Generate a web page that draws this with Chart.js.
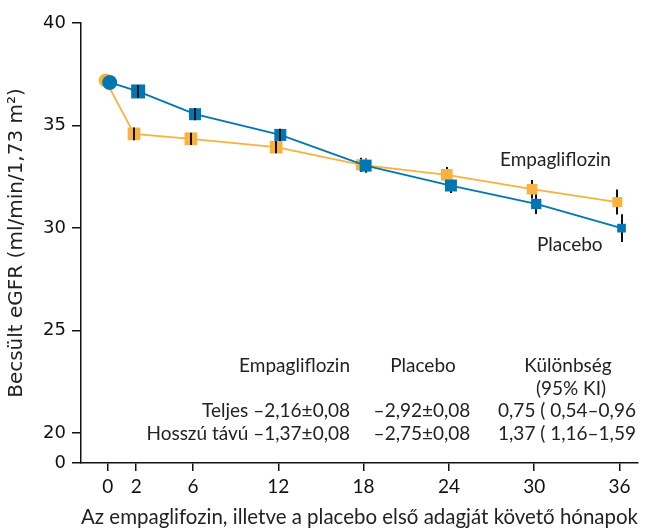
<!DOCTYPE html>
<html>
<head>
<meta charset="utf-8">
<script src="https://cdn.jsdelivr.net/npm/chart.js@4.4.0/dist/chart.umd.min.js"></script>
<style>
  body { margin: 0; background: #fff; }
</style>
</head>
<body>
<canvas id="egfrChart" width="651" height="530"></canvas>
<script>
// adatok
const honapok = [0, 2, 6, 12, 18, 24, 30, 36];
const placebo = [37.10, 36.66, 35.55, 34.54, 33.04, 32.07, 31.17, 29.99];
const placeboHiba = [0, 0.32, 0.30, 0.30, 0.35, 0.37, 0.49, 0.68];
const empa = [37.20, 34.59, 34.35, 33.94, 33.08, 32.59, 31.89, 31.26];
const empaHiba = [0, 0.31, 0.30, 0.30, 0.35, 0.38, 0.45, 0.61];
const yTickek = [20, 25, 30, 35, 40];
const xTickek = [0, 2, 6, 12, 18, 24, 30, 36];

const fejlec = ['Empagliflozin', 'Placebo', 'Különbség', '(95% KI)'];
const sor1 = ['Teljes –2,16±0,08', '–2,92±0,08', '0,75 ( 0,54–0,96'];
const sor2 = ['Hosszú távú –1,37±0,08', '–2,75±0,08', '1,37 ( 1,16–1,59'];

// stilus
const kek = '#0077b2';
const narancs = '#f9b13f';
const Y_MIN = 18.53;
const placeboMeret = [15, 14, 12, 12, 12, 12, 10.3, 8.7];
const empaMeret = [14, 12.7, 12.7, 12.7, 11, 11.7, 10.7, 10];
const szoveg = "19px Lato";

function pontok(ertekek, eltolas) {
  return honapok.map((m, i) => ({ x: m + eltolas, y: ertekek[i] }));
}

function sugar(meretek) {
  return meretek.map((s, i) => i === 0 ? s / 2 : s / Math.SQRT2);
}

// hibasavok: ha a negyzetbe belefer, felulre rajzoljuk
function hibasavok(chart, felul) {
  const ctx = chart.ctx;
  const xs = chart.scales.x, ys = chart.scales.y;
  const sorozat = [[placeboHiba, placeboMeret, 0], [empaHiba, empaMeret, 1]];
  ctx.save();
  ctx.strokeStyle = '#111';
  ctx.lineWidth = 2;
  sorozat.forEach(([hiba, meret, di]) => {
    const data = chart.data.datasets[di].data;
    data.forEach((p, i) => {
      if (!hiba[i]) return;
      const x = xs.getPixelForValue(p.x);
      const y1 = ys.getPixelForValue(p.y - hiba[i]);
      const y2 = ys.getPixelForValue(p.y + hiba[i]);
      const belul = (y1 - y2) / 2 <= meret[i] / 2 + 0.5;
      if (belul !== felul) return;
      ctx.beginPath();
      ctx.moveTo(Math.round(x), y1);
      ctx.lineTo(Math.round(x), y2);
      ctx.stroke();
    });
  });
  ctx.restore();
}

const hibaPlugin = {
  id: 'hiba',
  beforeDatasetsDraw(chart) { hibasavok(chart, false); },
  afterDatasetsDraw(chart) { hibasavok(chart, true); }
};

const feliratPlugin = {
  id: 'felirat',
  afterDraw(chart) {
    const ctx = chart.ctx;
    ctx.save();
    ctx.font = szoveg;
    ctx.fillStyle = '#222';
    ctx.textBaseline = 'middle';

    ctx.textAlign = 'left';
    ctx.fillText('Empagliflozin', 500, 160);
    ctx.fillText('Placebo', 537, 245);

    ctx.textAlign = 'right';
    ctx.fillText(fejlec[0], 350, 366);
    ctx.fillText(sor1[0], 350, 411);
    ctx.fillText(sor2[0], 350, 434);

    ctx.textAlign = 'center';
    ctx.fillText(fejlec[1], 423, 366);
    ctx.fillText(fejlec[2], 568, 366);
    ctx.fillText(fejlec[3], 571, 389);
    ctx.fillText(sor1[1], 422, 411);
    ctx.fillText(sor2[1], 422, 434);
    ctx.fillText(sor1[2], 567, 411);
    ctx.fillText(sor2[2], 567, 434);
    ctx.restore();
  }
};

new Chart(document.getElementById('egfrChart'), {
  type: 'scatter',
  data: {
    datasets: [{
      label: 'Placebo',
      data: pontok(placebo, 0.14),
      showLine: true,
      borderColor: kek,
      backgroundColor: kek,
      borderWidth: 1.8,
      pointStyle: honapok.map((m, i) => i === 0 ? 'circle' : 'rect'),
      pointRadius: sugar(placeboMeret),
      pointBorderWidth: 0
    }, {
      label: 'Empagliflozin',
      data: pontok(empa, -0.15),
      showLine: true,
      borderColor: narancs,
      backgroundColor: narancs,
      borderWidth: 1.8,
      pointStyle: honapok.map((m, i) => i === 0 ? 'circle' : 'rect'),
      pointRadius: sugar(empaMeret),
      pointBorderWidth: 0
    }]
  },
  options: {
    responsive: false,
    animation: false,
    layout: { padding: { top: 23, right: 13, left: 0, bottom: 0 } },
    plugins: { legend: { display: false }, tooltip: { enabled: false } },
    scales: {
      x: {
        type: 'linear',
        min: -1.88,
        max: 37.3,
        afterBuildTicks: s => { s.ticks = xTickek.map(v => ({ value: v })); },
        afterFit: s => { s.height = 67; },
        ticks: { autoSkip: false, color: '#111', padding: 4, font: { family: 'Lato', size: 19 } },
        grid: { drawOnChartArea: false, tickLength: 8, color: '#111', lineWidth: 1.5 },
        border: { color: '#111', width: 1.5 },
        title: {
          display: true,
          text: 'Az empaglifozin, illetve a placebo első adagját követő hónapok',
          color: '#222',
          font: { family: 'Lato', size: 21 },
          padding: { top: 0, bottom: 0 }
        }
      },
      y: {
        min: Y_MIN,
        max: 40,
        afterBuildTicks: s => { s.ticks = [Y_MIN].concat(yTickek).map(v => ({ value: v })); },
        afterFit: s => { s.width = 81; },
        ticks: {
          color: '#111',
          padding: 6,
          font: { family: 'DejaVu Sans', size: 18 },
          callback: v => v === Y_MIN ? '0' : v
        },
        grid: { drawOnChartArea: false, tickLength: 9, color: '#111', lineWidth: 1.5 },
        border: { color: '#111', width: 1.5 },
        title: {
          display: true,
          text: 'Becsült eGFR (ml/min/1,73 m²)',
          color: '#222',
          font: { family: 'DejaVu Sans', size: 20 },
          padding: { top: 5, bottom: 0 }
        }
      }
    }
  },
  plugins: [hibaPlugin, feliratPlugin]
});
</script>
</body>
</html>
